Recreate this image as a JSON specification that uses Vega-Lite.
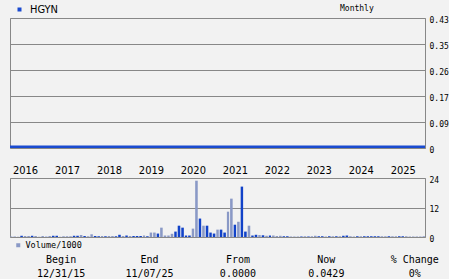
{
  "$schema": "https://vega.github.io/schema/vega-lite/v6.json",
  "background": "#f2f2f2",
  "padding": {"left": 9, "top": 3, "right": 0, "bottom": 0},
  "datasets": {
    "monthly": [
      {"date": "2015-12-01", "price": 0.003, "volume": 0.2, "dir": "L"},
      {"date": "2016-01-01", "price": 0.003, "volume": 0.2, "dir": "L"},
      {"date": "2016-02-01", "price": 0.003, "volume": 0.1, "dir": "L"},
      {"date": "2016-03-01", "price": 0.003, "volume": 0.5, "dir": "D"},
      {"date": "2016-04-01", "price": 0.003, "volume": 0.4, "dir": "L"},
      {"date": "2016-05-01", "price": 0.003, "volume": 0.4, "dir": "L"},
      {"date": "2016-06-01", "price": 0.003, "volume": 0.5, "dir": "D"},
      {"date": "2016-07-01", "price": 0.003, "volume": 0.4, "dir": "L"},
      {"date": "2016-08-01", "price": 0.003, "volume": 0.1, "dir": "L"},
      {"date": "2016-09-01", "price": 0.003, "volume": 0.4, "dir": "L"},
      {"date": "2016-10-01", "price": 0.003, "volume": 0.1, "dir": "D"},
      {"date": "2016-11-01", "price": 0.003, "volume": 0.4, "dir": "L"},
      {"date": "2016-12-01", "price": 0.003, "volume": 0.5, "dir": "D"},
      {"date": "2017-01-01", "price": 0.003, "volume": 0.5, "dir": "D"},
      {"date": "2017-02-01", "price": 0.003, "volume": 0.1, "dir": "L"},
      {"date": "2017-03-01", "price": 0.003, "volume": 0.3, "dir": "L"},
      {"date": "2017-04-01", "price": 0.003, "volume": 0.3, "dir": "L"},
      {"date": "2017-05-01", "price": 0.003, "volume": 0.3, "dir": "L"},
      {"date": "2017-06-01", "price": 0.003, "volume": 0.5, "dir": "D"},
      {"date": "2017-07-01", "price": 0.003, "volume": 0.5, "dir": "D"},
      {"date": "2017-08-01", "price": 0.003, "volume": 0.8, "dir": "L"},
      {"date": "2017-09-01", "price": 0.003, "volume": 0.4, "dir": "D"},
      {"date": "2017-10-01", "price": 0.003, "volume": 0.3, "dir": "L"},
      {"date": "2017-11-01", "price": 0.003, "volume": 1.1, "dir": "L"},
      {"date": "2017-12-01", "price": 0.003, "volume": 0.4, "dir": "D"},
      {"date": "2018-01-01", "price": 0.003, "volume": 0.3, "dir": "D"},
      {"date": "2018-02-01", "price": 0.003, "volume": 0.4, "dir": "L"},
      {"date": "2018-03-01", "price": 0.003, "volume": 0.3, "dir": "D"},
      {"date": "2018-04-01", "price": 0.003, "volume": 0.4, "dir": "L"},
      {"date": "2018-05-01", "price": 0.003, "volume": 0.4, "dir": "L"},
      {"date": "2018-06-01", "price": 0.003, "volume": 0.3, "dir": "D"},
      {"date": "2018-07-01", "price": 0.003, "volume": 0.9, "dir": "D"},
      {"date": "2018-08-01", "price": 0.003, "volume": 0.4, "dir": "L"},
      {"date": "2018-09-01", "price": 0.003, "volume": 0.6, "dir": "D"},
      {"date": "2018-10-01", "price": 0.003, "volume": 0.4, "dir": "L"},
      {"date": "2018-11-01", "price": 0.003, "volume": 0.4, "dir": "D"},
      {"date": "2018-12-01", "price": 0.003, "volume": 0.4, "dir": "D"},
      {"date": "2019-01-01", "price": 0.003, "volume": 0.4, "dir": "D"},
      {"date": "2019-02-01", "price": 0.003, "volume": 0.6, "dir": "L"},
      {"date": "2019-03-01", "price": 0.003, "volume": 0.3, "dir": "D"},
      {"date": "2019-04-01", "price": 0.003, "volume": 1.8, "dir": "L"},
      {"date": "2019-05-01", "price": 0.003, "volume": 1.8, "dir": "L"},
      {"date": "2019-06-01", "price": 0.003, "volume": 1.4, "dir": "D"},
      {"date": "2019-07-01", "price": 0.003, "volume": 3.8, "dir": "L"},
      {"date": "2019-08-01", "price": 0.003, "volume": 0.6, "dir": "L"},
      {"date": "2019-09-01", "price": 0.003, "volume": 0.6, "dir": "L"},
      {"date": "2019-10-01", "price": 0.003, "volume": 1.3, "dir": "L"},
      {"date": "2019-11-01", "price": 0.003, "volume": 2.2, "dir": "D"},
      {"date": "2019-12-01", "price": 0.003, "volume": 4.6, "dir": "D"},
      {"date": "2020-01-01", "price": 0.003, "volume": 3.8, "dir": "D"},
      {"date": "2020-02-01", "price": 0.003, "volume": 0.6, "dir": "D"},
      {"date": "2020-03-01", "price": 0.003, "volume": 0.6, "dir": "D"},
      {"date": "2020-04-01", "price": 0.003, "volume": 3.4, "dir": "L"},
      {"date": "2020-05-01", "price": 0.003, "volume": 22.9, "dir": "L"},
      {"date": "2020-06-01", "price": 0.003, "volume": 7.5, "dir": "D"},
      {"date": "2020-07-01", "price": 0.003, "volume": 4.6, "dir": "L"},
      {"date": "2020-08-01", "price": 0.003, "volume": 4.6, "dir": "D"},
      {"date": "2020-09-01", "price": 0.003, "volume": 1.8, "dir": "D"},
      {"date": "2020-10-01", "price": 0.003, "volume": 1.4, "dir": "D"},
      {"date": "2020-11-01", "price": 0.003, "volume": 3.0, "dir": "L"},
      {"date": "2020-12-01", "price": 0.003, "volume": 3.0, "dir": "D"},
      {"date": "2021-01-01", "price": 0.003, "volume": 1.8, "dir": "D"},
      {"date": "2021-02-01", "price": 0.003, "volume": 10.3, "dir": "L"},
      {"date": "2021-03-01", "price": 0.003, "volume": 15.6, "dir": "L"},
      {"date": "2021-04-01", "price": 0.003, "volume": 5.0, "dir": "D"},
      {"date": "2021-05-01", "price": 0.003, "volume": 6.2, "dir": "L"},
      {"date": "2021-06-01", "price": 0.003, "volume": 20.5, "dir": "D"},
      {"date": "2021-07-01", "price": 0.003, "volume": 2.2, "dir": "D"},
      {"date": "2021-08-01", "price": 0.003, "volume": 4.6, "dir": "L"},
      {"date": "2021-09-01", "price": 0.003, "volume": 0.6, "dir": "D"},
      {"date": "2021-10-01", "price": 0.003, "volume": 0.9, "dir": "D"},
      {"date": "2021-11-01", "price": 0.003, "volume": 0.8, "dir": "L"},
      {"date": "2021-12-01", "price": 0.003, "volume": 0.7, "dir": "D"},
      {"date": "2022-01-01", "price": 0.003, "volume": 0.5, "dir": "L"},
      {"date": "2022-02-01", "price": 0.003, "volume": 0.6, "dir": "D"},
      {"date": "2022-03-01", "price": 0.003, "volume": 0.6, "dir": "L"},
      {"date": "2022-04-01", "price": 0.003, "volume": 0.4, "dir": "L"},
      {"date": "2022-05-01", "price": 0.003, "volume": 0.5, "dir": "L"},
      {"date": "2022-06-01", "price": 0.003, "volume": 0.3, "dir": "D"},
      {"date": "2022-07-01", "price": 0.003, "volume": 0.3, "dir": "D"},
      {"date": "2022-08-01", "price": 0.003, "volume": 0.2, "dir": "L"},
      {"date": "2022-09-01", "price": 0.003, "volume": 0.2, "dir": "L"},
      {"date": "2022-10-01", "price": 0.003, "volume": 0.2, "dir": "L"},
      {"date": "2022-11-01", "price": 0.003, "volume": 0.2, "dir": "D"},
      {"date": "2022-12-01", "price": 0.003, "volume": 0.3, "dir": "L"},
      {"date": "2023-01-01", "price": 0.003, "volume": 0.2, "dir": "D"},
      {"date": "2023-02-01", "price": 0.003, "volume": 0.3, "dir": "L"},
      {"date": "2023-03-01", "price": 0.003, "volume": 0.5, "dir": "L"},
      {"date": "2023-04-01", "price": 0.003, "volume": 0.3, "dir": "D"},
      {"date": "2023-05-01", "price": 0.003, "volume": 0.3, "dir": "D"},
      {"date": "2023-06-01", "price": 0.003, "volume": 0.2, "dir": "L"},
      {"date": "2023-07-01", "price": 0.003, "volume": 0.3, "dir": "D"},
      {"date": "2023-08-01", "price": 0.003, "volume": 0.3, "dir": "L"},
      {"date": "2023-09-01", "price": 0.003, "volume": 0.3, "dir": "D"},
      {"date": "2023-10-01", "price": 0.003, "volume": 0.3, "dir": "L"},
      {"date": "2023-11-01", "price": 0.003, "volume": 0.5, "dir": "D"},
      {"date": "2023-12-01", "price": 0.003, "volume": 0.6, "dir": "D"},
      {"date": "2024-01-01", "price": 0.003, "volume": 0.3, "dir": "L"},
      {"date": "2024-02-01", "price": 0.003, "volume": 0.2, "dir": "L"},
      {"date": "2024-03-01", "price": 0.003, "volume": 0.3, "dir": "D"},
      {"date": "2024-04-01", "price": 0.003, "volume": 0.3, "dir": "L"},
      {"date": "2024-05-01", "price": 0.003, "volume": 0.3, "dir": "D"},
      {"date": "2024-06-01", "price": 0.003, "volume": 0.3, "dir": "D"},
      {"date": "2024-07-01", "price": 0.003, "volume": 0.3, "dir": "D"},
      {"date": "2024-08-01", "price": 0.003, "volume": 0.3, "dir": "D"},
      {"date": "2024-09-01", "price": 0.003, "volume": 0.3, "dir": "D"},
      {"date": "2024-10-01", "price": 0.003, "volume": 0.3, "dir": "L"},
      {"date": "2024-11-01", "price": 0.003, "volume": 0.3, "dir": "L"},
      {"date": "2024-12-01", "price": 0.003, "volume": 0.3, "dir": "D"},
      {"date": "2025-01-01", "price": 0.003, "volume": 0.3, "dir": "L"},
      {"date": "2025-02-01", "price": 0.003, "volume": 0.3, "dir": "L"},
      {"date": "2025-03-01", "price": 0.003, "volume": 0.3, "dir": "D"},
      {"date": "2025-04-01", "price": 0.003, "volume": 0.3, "dir": "D"},
      {"date": "2025-05-01", "price": 0.003, "volume": 0.3, "dir": "L"},
      {"date": "2025-06-01", "price": 0.003, "volume": 0.2, "dir": "L"},
      {"date": "2025-07-01", "price": 0.003, "volume": 0.2, "dir": "L"},
      {"date": "2025-08-01", "price": 0.003, "volume": 0.2, "dir": "L"},
      {"date": "2025-09-01", "price": 0.003, "volume": 0.2, "dir": "L"},
      {"date": "2025-10-01", "price": 0.003, "volume": 0.3, "dir": "L"},
      {"date": "2025-11-01", "price": 0.003, "volume": 0.2, "dir": "L"}
    ],
    "summary": [
      {"col": "Begin", "row": "label", "text": "Begin"},
      {"col": "End", "row": "label", "text": "End"},
      {"col": "From", "row": "label", "text": "From"},
      {"col": "Now", "row": "label", "text": "Now"},
      {"col": "% Change", "row": "label", "text": "% Change"},
      {"col": "Begin", "row": "value", "text": "12/31/15"},
      {"col": "End", "row": "value", "text": "11/07/25"},
      {"col": "From", "row": "value", "text": "0.0000"},
      {"col": "Now", "row": "value", "text": "0.0429"},
      {"col": "% Change", "row": "value", "text": "0%"}
    ]
  },
  "bounds": "flush",
  "spacing": 30,
  "resolve": {"scale": {"color": "independent"}, "legend": {"color": "independent"}},
  "vconcat": [
    {
      "data": {"name": "monthly"},
      "width": 415,
      "height": 130,
      "title": {"text": "Monthly", "anchor": "start", "frame": "group", "dx": 330, "offset": -9, "font": "DejaVu Sans Mono", "fontSize": 8, "fontWeight": "normal", "color": "#000000"},
      "mark": {"type": "line", "strokeWidth": 3, "clip": true},
      "encoding": {
        "x": {"field": "date", "type": "temporal", "scale": {"domain": ["2015-12-11", "2025-10-31"]}, "axis": null},
        "y": {
          "field": "price", "type": "quantitative",
          "scale": {"domain": [0, 0.43]},
          "axis": {
            "orient": "right", "title": null, "grid": true,
            "values": [0, 0.086, 0.172, 0.258, 0.344, 0.43],
            "labelExpr": "datum.value >= 0.4 ? '0.43' : datum.value >= 0.3 ? '0.35' : datum.value >= 0.2 ? '0.26' : datum.value >= 0.15 ? '0.17' : datum.value >= 0.05 ? '0.09' : '0'",
            "labelPadding": 4, "labelBaseline": "middle", "labelOffset": 2
          }
        },
        "color": {
          "datum": "HGYN",
          "scale": {"range": ["#1a4bd0"]},
          "legend": {
            "orient": "none", "legendX": 4, "legendY": -14, "title": null,
            "symbolType": "square", "symbolSize": 16, "symbolStrokeWidth": 0,
            "symbolFillColor": "#1a4bd0",
            "labelFont": "DejaVu Sans Condensed, Liberation Sans", "labelFontSize": 11, "labelOffset": 5, "labelColor": "#000000",
            "encode": {"symbols": {"update": {"fill": {"value": "#1a4bd0"}, "stroke": {"value": "transparent"}}}}
          }
        }
      }
    },
    {
      "bounds": "flush",
      "spacing": 22.7,
      "resolve": {"scale": {"color": "independent"}, "legend": {"color": "independent"}},
      "vconcat": [
        {
          "data": {"name": "monthly"},
          "width": 415,
          "height": 59,
          "mark": {"type": "bar", "clip": true},
          "encoding": {
            "x": {
              "field": "date", "type": "temporal", "timeUnit": "yearmonth",
              "scale": {"domain": ["2015-12-11", "2025-10-31"]},
              "axis": {
                "orient": "top", "title": null, "grid": false, "format": "%Y", "formatType": "time",
                "tickCount": {"interval": "year", "step": 1},
                "labelAlign": "left", "labelBaseline": "bottom", "labelPadding": 3,
                "labelFont": "DejaVu Sans Condensed, Liberation Sans", "labelFontSize": 11,
                "labelFlush": false, "labelOverlap": false
              }
            },
            "y": {
              "field": "volume", "type": "quantitative",
              "scale": {"domain": [0, 24]},
              "axis": {"orient": "right", "title": null, "grid": true, "values": [0, 12, 24], "labelPadding": 4, "labelBaseline": "middle", "labelOffset": 2}
            },
            "color": {
              "field": "dir", "type": "nominal",
              "scale": {"domain": ["L", "D"], "range": ["#8a99c6", "#1142c8"]},
              "legend": {
                "orient": "none", "legendX": 4, "legendY": 63, "title": null,
                "values": ["L"], "labelExpr": "'Volume/1000'",
                "symbolType": "square", "symbolSize": 16, "symbolStrokeWidth": 0,
                "labelFont": "DejaVu Sans Mono", "labelFontSize": 8.5, "labelOffset": 3, "labelColor": "#000000"
              }
            }
          }
        },
        {
          "data": {"name": "summary"},
          "width": 415,
          "height": 14,
          "view": {"stroke": null},
          "mark": {"type": "text", "font": "DejaVu Sans Mono", "fontSize": 10, "baseline": "middle", "align": "center", "color": "#000000"},
          "encoding": {
            "x": {"field": "col", "type": "nominal", "sort": null, "scale": {"type": "point", "padding": 0.347, "align": 0.833}, "axis": null},
            "y": {"field": "row", "type": "nominal", "sort": null, "scale": {"type": "point", "padding": 0}, "axis": null},
            "text": {"field": "text"}
          }
        }
      ]
    }
  ],
  "config": {
    "view": {"stroke": "#888888"},
    "axis": {
      "labelFont": "DejaVu Sans Mono", "labelFontSize": 8, "labelColor": "#000000",
      "gridColor": "#888888", "gridOpacity": 1, "gridWidth": 1,
      "domain": false, "ticks": false, "tickSize": 0
    },
    "legend": {"labelColor": "#000000"}
  }
}
